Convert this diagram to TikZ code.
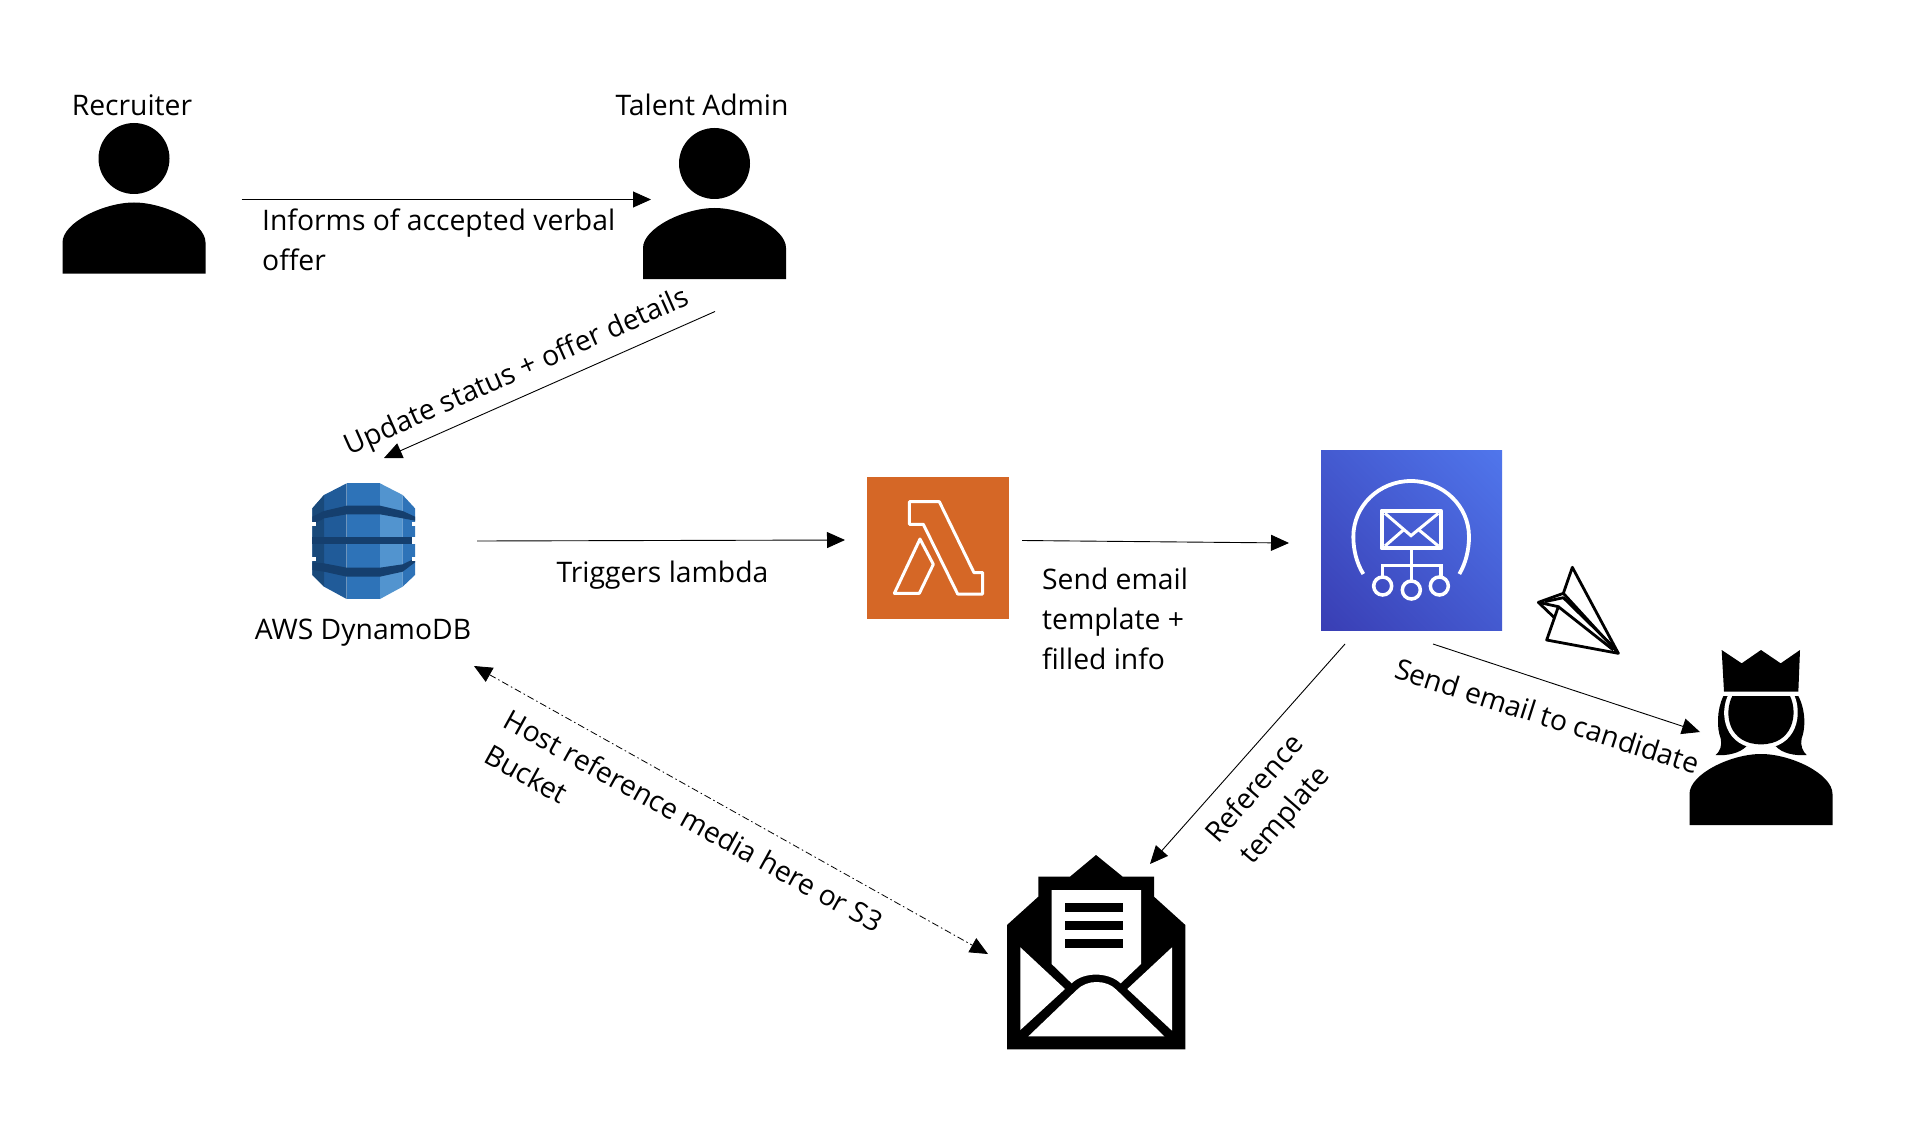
\documentclass[tikz,border=0pt]{standalone}
\usepackage{fontspec}
\setmainfont{Open Sans}
\usetikzlibrary{arrows.meta,shadings}
\definecolor{lamb}{HTML}{D56726}
\definecolor{ddL}{HTML}{205B99}
\definecolor{ddM}{HTML}{2E73B8}
\definecolor{ddR}{HTML}{5294CF}
\definecolor{ddD}{HTML}{153F6E}
\definecolor{sesA}{RGB}{57,62,180}
\definecolor{sesB}{RGB}{80,118,236}
\definecolor{sesC}{RGB}{68,90,208}
\tikzset{
  lbl/.style={font=\fontsize{28.3}{40}\selectfont, inner sep=0pt, text=black},
  conn/.style={line width=0.9pt, draw=black, -{Triangle[length=18pt,width=16pt]}},
  dashconn/.style={line width=0.8pt, draw=black, dash pattern=on 7pt off 3pt on 1.5pt off 3pt, {Triangle[length=18pt,width=16pt]}-{Triangle[length=18pt,width=16pt]}},
  icon/.style={inner sep=0pt, minimum width=#1, minimum height=#1},
  bust/.pic={
    \fill[black] (-71.5,71) -- (-71.5,40) .. controls (-71.5,20) and (-30,0) .. (0,0) .. controls (30,0) and (71.5,20) .. (71.5,40) -- (71.5,71) -- cycle;
  }
}
\begin{document}
\begin{tikzpicture}[x=1pt,y=-1pt]
\useasboundingbox (0,0) rectangle (1920,1126);
\fill[white] (0,0) rectangle (1920,1126);

% Recruiter
\node[lbl] (recruiterlabel) at (132,105) {Recruiter};
\node[icon=120pt] (recruiter) at (134,200) {};
\fill[black] (134,158.5) circle (35.5);
\pic at (134,202.5) {bust};
% Talent Admin
\node[lbl] (talentlabel) at (702,105) {Talent Admin};
\node[icon=120pt] (talent) at (714.5,205) {};
\fill[black] (714.5,163.5) circle (35.5);
\pic at (714.5,208) {bust};

% Connector coordinates
\coordinate (recruiterout) at (241.5,199.5);
\coordinate (talentin) at (651,199.5);
\coordinate (talentout) at (715,311.5);
\coordinate (dynamoin) at (384,458);
\coordinate (dynamoout) at (477,541);
\coordinate (lambdain) at (845,540);
\coordinate (lambdaout) at (1022,540.5);
\coordinate (sesin) at (1289,543);
\coordinate (sestomail) at (1345,644);
\coordinate (mailin) at (1150,864);
\coordinate (sestocand) at (1433,644);
\coordinate (candin) at (1700,732);
\coordinate (dynamodash) at (474,666);
\coordinate (maildash) at (988,954);

% DynamoDB
\node[icon=117pt] (dynamo) at (364,541.5) {};
\begin{scope}[shift={(300,475)}, scale=1/3]
  \fill[ddL] (140,25) -- (72,60) -- (37,100) -- (37,300) -- (72,335) -- (140,372) -- cycle;
  \fill[ddM] (140,25) rectangle (240,372);
  \fill[ddR] (240,25) -- (308,60) -- (308,335) -- (240,372) -- cycle;
  \fill[ddM] (308,60) -- (345,100) -- (345,300) -- (308,335) -- cycle;
  \fill[ddL!80!black] (37,100) -- (72,60) -- (72,335) -- (37,300) -- cycle;
  \fill[ddD] (37,125) -- (72,108) -- (140,92) -- (240,92) -- (308,108) -- (345,125) -- (345,137) -- (308,130) -- (240,118) -- (140,118) -- (72,130) -- (37,150) -- cycle;
  \fill[ddD] (37,187) -- (345,187) -- (345,208) -- (37,208) -- cycle;
  \fill[ddD] (37,262) -- (72,265) -- (140,278) -- (240,278) -- (308,268) -- (345,250) -- (345,262) -- (308,290) -- (240,305) -- (140,305) -- (72,290) -- (37,285) -- cycle;
  \fill[white] (33,140) rectangle (47,152);
  \fill[white] (33,247) rectangle (47,259);
  \fill[white] (335,140) rectangle (349,152);
  \fill[white] (335,247) rectangle (349,259);
  \fill[white] (335,187) rectangle (349,208);
\end{scope}
\node[lbl] (dynamolabel) at (363,633) {AWS DynamoDB};

% Lambda
\node[icon=142pt, fill=lamb] (lambda) at (938,548) {};
\begin{scope}[shift={(860,470)}, scale=1/3, white, line width=3pt, line join=round]
  \draw (148,95) -- (238,95) -- (342,308) -- (368,308) -- (368,372) -- (293,372) -- (190,163) -- (148,163) -- cycle;
  \draw (180,207) -- (220,283) -- (178,370) -- (103,370) -- cycle;
\end{scope}

% SES
\node[inner sep=0pt, minimum width=181pt, minimum height=180pt, shade,
  lower left=sesA, upper right=sesB, upper left=sesC, lower right=sesC] (ses) at (1411.5,540) {};
\begin{scope}[shift={(1340,470)}, scale=1/3, white, line width=3.8pt]
  \draw (70,312) .. controls (50,280) and (40,240) .. (40,200) .. controls (40,108) and (117,33) .. (213,33) .. controls (309,33) and (387,108) .. (387,200) .. controls (387,240) and (377,280) .. (358,312);
  \draw[line join=round] (125,122) rectangle (303,235);
  \draw[line width=3pt] (135,130) -- (213,197) -- (295,130);
  \draw[line width=3pt] (135,228) -- (190,180);
  \draw[line width=3pt] (295,228) -- (237,180);
  \draw[line width=3.3pt] (214,235) -- (214,330);
  \draw[line width=3.3pt] (127,320) -- (127,287) -- (303,287) -- (303,320);
  \draw[line width=3.5pt] (128,348) circle (27);
  \draw[line width=3.5pt] (214,360) circle (27);
  \draw[line width=3.5pt] (298,348) circle (27);
\end{scope}

% Paper plane
\begin{scope}[shift={(1530,560)}, scale=1/3, line width=2.8pt, line join=round]
  \node[icon=50pt] (plane) at (140,150) {};
  \draw (127,22) -- (265,280) -- (50,240) -- (85,140) -- (25,127) -- (100,100) -- cycle;
  \draw (25,127) -- (72,172);
  \draw (45,125) -- (100,113) -- (255,265);
  \draw (100,100) -- (265,280);
  \draw (85,140) -- (250,270);
\end{scope}

% Candidate
\node[icon=143pt] (candidate) at (1761.5,738) {};
\begin{scope}[shift={(1690,640)}, scale=1/3]
  \fill[black] (100,168) .. controls (80,210) and (80,265) .. (92,295) .. controls (97,315) and (90,335) .. (77,345)
     .. controls (110,348) and (150,340) .. (170,318) -- (257,318) .. controls (275,340) and (315,348) .. (350,345)
     .. controls (338,335) and (330,315) .. (335,295) .. controls (347,265) and (347,210) .. (325,168) -- cycle;
  \filldraw[white, line width=8.4pt, line join=round] (127,168) -- (300,168) .. controls (325,220) and (310,313) .. (213,313) .. controls (115,313) and (100,220) .. (127,168) -- cycle;
  \fill[black] (127,168) -- (300,168) .. controls (325,220) and (310,313) .. (213,313) .. controls (115,313) and (100,220) .. (127,168) -- cycle;
  \fill[black] (95,30) -- (155,70) -- (213,30) -- (272,70) -- (330,30) -- (325,155) -- (102,155) -- cycle;
\end{scope}
\pic at (1761,754) {bust};

% Open envelope
\node[icon=178pt] (mail) at (1096,960) {};
\begin{scope}[shift={(980,840)}, scale=1/3]
  \fill[black] (81,255) -- (175,170) -- (175,110) -- (270,110) -- (348,45) -- (428,110) -- (522,110) -- (522,170) -- (616,255) -- (616,628) -- (81,628) -- cycle;
  \fill[white] (215,150) -- (483,150) -- (483,372) -- (422,430) .. controls (385,395) and (310,395) .. (275,430) -- (215,372) -- cycle;
  \fill[black] (255,190) rectangle (428,216);
  \fill[black] (255,243) rectangle (428,270);
  \fill[black] (255,297) rectangle (428,323);
  \fill[white] (121,322) -- (255,447) -- (121,570) -- cycle;
  \fill[white] (576,322) -- (442,447) -- (576,572) -- cycle;
  \fill[white] (145,589) -- (290,450) .. controls (320,418) and (380,418) .. (410,450) -- (553,589) -- cycle;
\end{scope}

% Connectors
\draw[conn] (recruiterout) -- (talentin);
\draw[conn] (talentout) -- (dynamoin);
\draw[conn] (dynamoout) -- (lambdain);
\draw[conn] (lambdaout) -- (sesin);
\draw[conn] (sestomail) -- (mailin);
\draw[conn] (sestocand) -- (candin);
\draw[dashconn] (dynamodash) -- (maildash);

% Labels
\node[lbl, anchor=west, align=left] (informs) at (262,240) {Informs of accepted verbal\\offer};
\node[lbl, rotate=24] (update) at (517,373) {Update status + offer details};
\node[lbl] (triggers) at (662.5,575.5) {Triggers lambda};
\node[lbl, anchor=west, align=left] (sendtpl) at (1042,618.5) {Send email\\template +\\filled info};
\node[lbl, rotate=-17.7] (sendcand) at (1547.5,716) {Send email to candidate};
\node[lbl, rotate=49, align=center] (reftpl) at (1271,803) {Reference\\template};
\node[lbl, rotate=-29, align=left] (host) at (684,838) {Host reference media here or S3\\Bucket};
\end{tikzpicture}
\end{document}
